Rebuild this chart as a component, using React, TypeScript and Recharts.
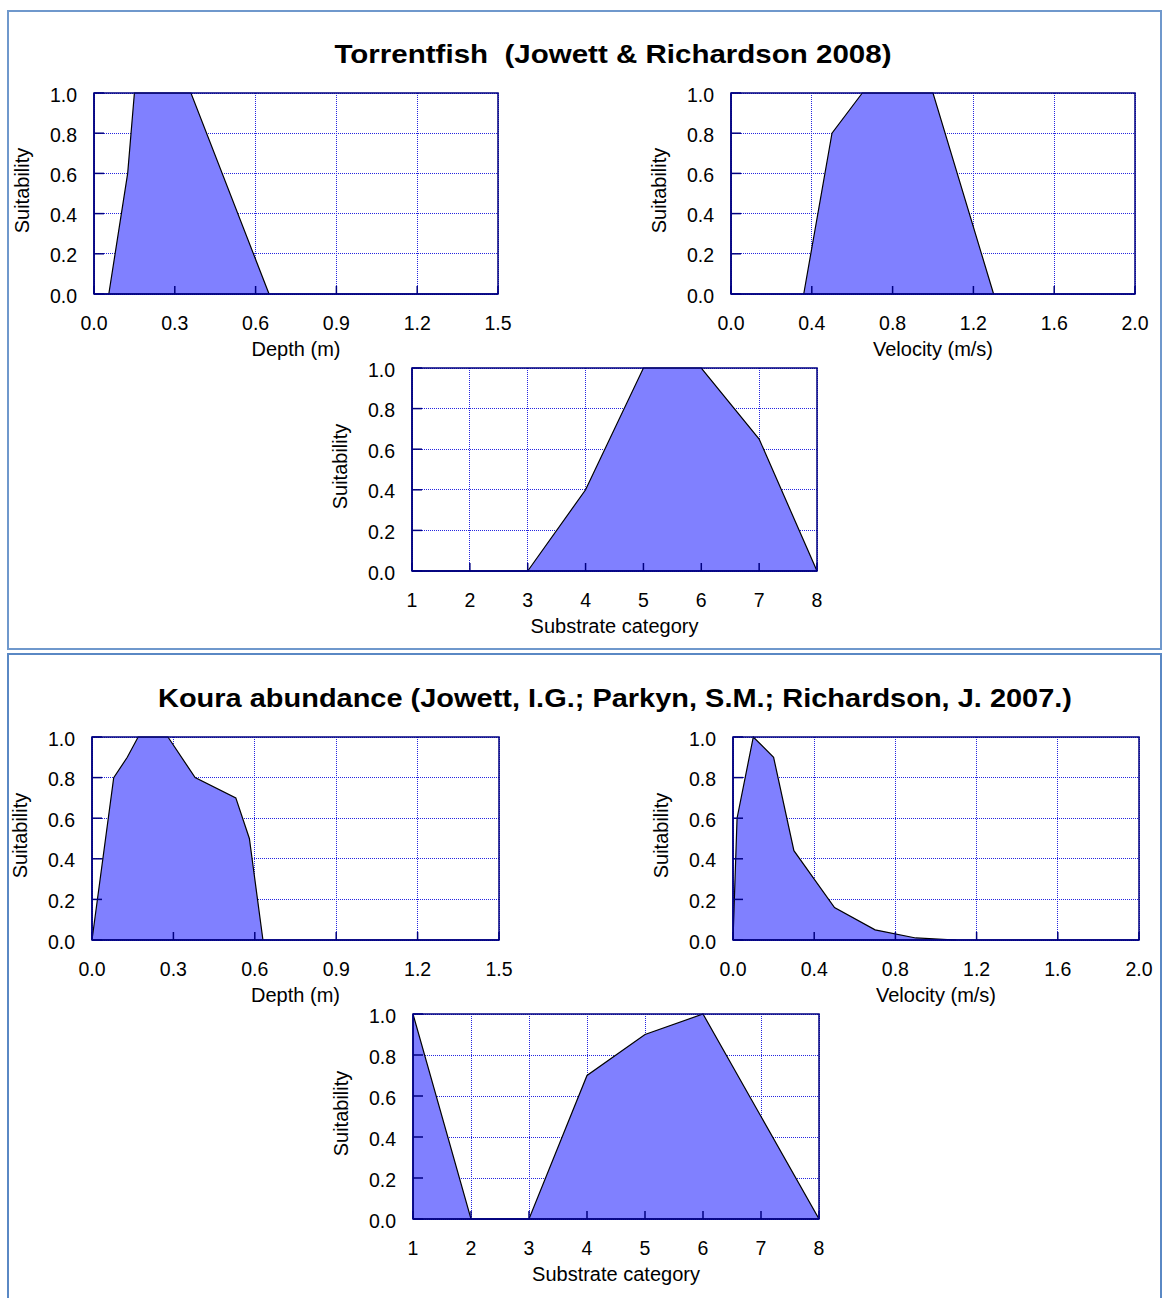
import React from 'react';
import { AreaChart, Area, XAxis, YAxis, CartesianGrid, ReferenceArea } from 'recharts';

// ---------- data ----------
const suitabilityTicks = [0, 0.2, 0.4, 0.6, 0.8, 1.0];
const depthTicks = [0, 0.3, 0.6, 0.9, 1.2, 1.5];
const velocityTicks = [0, 0.4, 0.8, 1.2, 1.6, 2.0];
const substrateTicks = [1, 2, 3, 4, 5, 6, 7, 8];

const torrentTitle = 'Torrentfish \u00a0(Jowett & Richardson 2008)';
const kouraTitle = 'Koura abundance (Jowett, I.G.; Parkyn, S.M.; Richardson, J. 2007.)';

const torrentDepthX = [0.055, 0.125, 0.15, 0.36, 0.65];
const torrentDepthY = [0, 0.6, 1.0, 1.0, 0];
const torrentVelocityX = [0.36, 0.5, 0.65, 1.0, 1.3];
const torrentVelocityY = [0, 0.8, 1.0, 1.0, 0];
const torrentSubstrateX = [1, 2, 3, 4, 5, 6, 7, 8];
const torrentSubstrateY = [0, 0, 0, 0.4, 1.0, 1.0, 0.65, 0];

const kouraDepthX = [0, 0.08, 0.13, 0.17, 0.28, 0.38, 0.53, 0.58, 0.63];
const kouraDepthY = [0, 0.8, 0.9, 1.0, 1.0, 0.8, 0.7, 0.5, 0];
const kouraVelocityX = [0, 0.02, 0.1, 0.2, 0.3, 0.5, 0.7, 0.9, 1.1];
const kouraVelocityY = [0, 0.6, 1.0, 0.9, 0.44, 0.16, 0.05, 0.01, 0];
const kouraSubstrateX = [1, 2, 3, 4, 5, 6, 7, 8];
const kouraSubstrateY = [1.0, 0, 0, 0.7, 0.9, 1.0, 0.5, 0];

// ---------- styles ----------
const FONT = 'Arial, "Liberation Sans", sans-serif';
const NAVY = '#000080';
const GRID = '#2626e0';
const FILL = '#8080ff';
const TICK_FS = 19.5;
const LABEL_FS = 20;
const TM = 10; // tick margin

const ML = 95;
const MT = 12;
const MR = 15;
const XH = 72;

type ChartProps = {
  pl: number; pt: number; pr: number; pb: number;
  xs: number[]; ys: number[];
  domain: [number, number]; ticks: number[]; digits: number; xLabel: string;
};

const XTick = (digits: number) => (props: any) => {
  const { x, y, payload } = props;
  const axisY = y - TM;
  return (
    <g>
      <line x1={x} x2={x} y1={axisY} y2={axisY - 8} stroke={NAVY} strokeWidth={1.5} />
      <text x={x} y={axisY + 36} textAnchor="middle" fontSize={TICK_FS} fontFamily={FONT} fill="#000">
        {Number(payload.value).toFixed(digits)}
      </text>
    </g>
  );
};

const YTick = (props: any) => {
  const { x, y, payload } = props;
  const axisX = x + TM;
  return (
    <g>
      <line x1={axisX} x2={axisX + 10} y1={y} y2={y} stroke={NAVY} strokeWidth={1.5} />
      <text x={axisX - 17} y={y + 8.5} textAnchor="end" fontSize={TICK_FS} fontFamily={FONT} fill="#000">
        {Number(payload.value).toFixed(1)}
      </text>
    </g>
  );
};

const XLabelContent = (text: string) => (props: any) => {
  const vb = props.viewBox || {};
  return (
    <text x={vb.x + vb.width / 2} y={vb.y + 62} textAnchor="middle" fontSize={LABEL_FS} fontFamily={FONT} fill="#000">
      {text}
    </text>
  );
};

const YLabelContent = (props: any) => {
  const vb = props.viewBox || {};
  const cx = vb.x + vb.width - 65;
  const cy = vb.y + vb.height / 2 - 3;
  return (
    <text x={cx} y={cy} transform={`rotate(-90, ${cx}, ${cy})`} textAnchor="middle" fontSize={LABEL_FS} fontFamily={FONT} fill="#000">
      Suitability
    </text>
  );
};

function Chart({ pl, pt, pr, pb, xs, ys, domain, ticks, digits, xLabel }: ChartProps) {
  const data = xs.map((x, i) => ({ x, y: ys[i] }));
  const w = pr - pl;
  const h = pb - pt;
  return (
    <div style={{ position: 'absolute', left: pl - ML, top: pt - MT }}>
      <AreaChart width={w + ML + MR} height={h + MT + XH} data={data} margin={{ top: MT, right: MR, left: 0, bottom: 0 }}>
        <CartesianGrid stroke={GRID} strokeDasharray="1 1" strokeWidth={1} shapeRendering="crispEdges" />
        <XAxis
          dataKey="x"
          type="number"
          domain={domain}
          ticks={ticks}
          allowDataOverflow
          height={XH}
          tickSize={0}
          tickMargin={TM}
          tickLine={false}
          axisLine={{ stroke: NAVY, strokeWidth: 1.5 }}
          tick={XTick(digits)}
          interval={0}
          label={{ content: XLabelContent(xLabel) } as any}
        />
        <YAxis
          type="number"
          domain={[0, 1]}
          ticks={suitabilityTicks}
          width={ML}
          tickSize={0}
          tickMargin={TM}
          tickLine={false}
          axisLine={{ stroke: NAVY, strokeWidth: 1.5 }}
          tick={YTick}
          interval={0}
          label={{ content: YLabelContent } as any}
        />
        <Area
          type="linear"
          dataKey="y"
          stroke="#000"
          strokeWidth={1.2}
          fill={FILL}
          fillOpacity={1}
          dot={false}
          activeDot={false}
          isAnimationActive={false}
        />
        <ReferenceArea x1={domain[0]} x2={domain[1]} y1={0} y2={1} fill="none" stroke={NAVY} strokeWidth={1.5} ifOverflow="visible" />
      </AreaChart>
    </div>
  );
}

export default function App() {
  return (
    <div style={{ position: 'absolute', left: 0, top: 0, width: 1163, height: 1298, overflow: 'hidden', background: '#fff', fontFamily: FONT }}>
      <div style={{ position: 'absolute', left: 7, top: 10, width: 1155, height: 640, border: '2px solid #6f98cc', boxSizing: 'border-box' }} />
      <div style={{ position: 'absolute', left: 7, top: 653, width: 1155, height: 700, border: '2px solid #5a88c4', boxSizing: 'border-box' }} />
      <svg width={1163} height={1298} style={{ position: 'absolute', left: 0, top: 0 }}>
        <text x={613} y={63} textAnchor="middle" fontSize={26} fontWeight="bold" fontFamily={FONT} textLength={557} lengthAdjust="spacingAndGlyphs" fill="#000">
          {torrentTitle}
        </text>
        <text x={615} y={707} textAnchor="middle" fontSize={26} fontWeight="bold" fontFamily={FONT} textLength={914} lengthAdjust="spacingAndGlyphs" fill="#000">
          {kouraTitle}
        </text>
      </svg>

      <Chart pl={94} pt={93} pr={498} pb={294} xs={torrentDepthX} ys={torrentDepthY} domain={[0, 1.5]} ticks={depthTicks} digits={1} xLabel="Depth (m)" />
      <Chart pl={731} pt={93} pr={1135} pb={294} xs={torrentVelocityX} ys={torrentVelocityY} domain={[0, 2]} ticks={velocityTicks} digits={1} xLabel="Velocity (m/s)" />
      <Chart pl={412} pt={368} pr={817} pb={571} xs={torrentSubstrateX} ys={torrentSubstrateY} domain={[1, 8]} ticks={substrateTicks} digits={0} xLabel="Substrate category" />

      <Chart pl={92} pt={737} pr={499} pb={940} xs={kouraDepthX} ys={kouraDepthY} domain={[0, 1.5]} ticks={depthTicks} digits={1} xLabel="Depth (m)" />
      <Chart pl={733} pt={737} pr={1139} pb={940} xs={kouraVelocityX} ys={kouraVelocityY} domain={[0, 2]} ticks={velocityTicks} digits={1} xLabel="Velocity (m/s)" />
      <Chart pl={413} pt={1014} pr={819} pb={1219} xs={kouraSubstrateX} ys={kouraSubstrateY} domain={[1, 8]} ticks={substrateTicks} digits={0} xLabel="Substrate category" />
    </div>
  );
}
